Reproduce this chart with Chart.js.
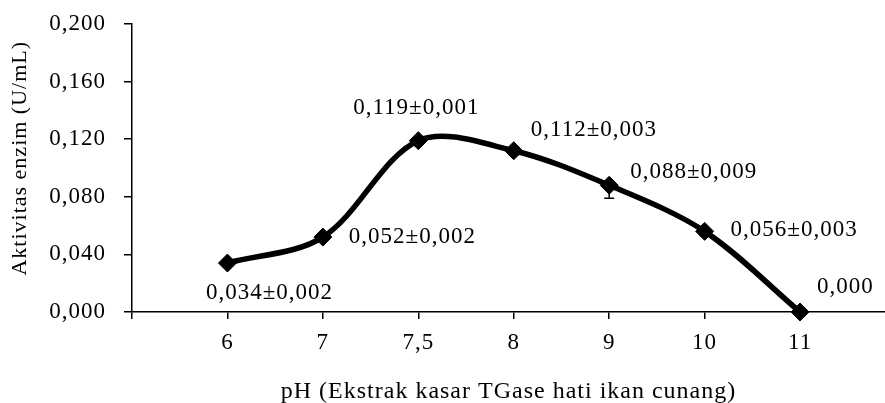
<!DOCTYPE html>
<html>
<head>
<meta charset="utf-8">
<script src="https://cdn.jsdelivr.net/npm/chart.js"></script>
<style>
	html, body { margin: 0; padding: 0; background: #fff; overflow: hidden; }
	canvas { display: block; }
</style>
</head>
<body>
<canvas id="graf" width="885" height="403"></canvas>
<script>
	// pH categories, activity (U/mL) and standard deviation
	const phLabels = ["6", "7", "7,5", "8", "9", "10", "11"];
	const activity = [0.034, 0.052, 0.119, 0.112, 0.088, 0.056, 0.0];
	const errors = [0.002, 0.002, 0.001, 0.003, 0.009, 0.003, 0.0];
	const yTicks = [0, 0.04, 0.08, 0.12, 0.16, 0.2];

	const fmt = (v) => v.toFixed(3).replace(".", ",");
	const FONT = "'Liberation Serif', 'Times New Roman', serif";

	// label placement relative to each point: [dx, dy, align]
	const labelPlace = [
		[42, 30, "center"],
		[26, 0, "left"],
		[-2, -33, "center"],
		[17, -21, "left"],
		[21, -13, "left"],
		[26, -1, "left"],
		[17, -25, "left"],
	];

	const spacing = {
		id: "spacing",
		beforeDraw(chart) {
			chart.ctx.letterSpacing = "1px";
		},
	};

	// only the lower half of each error bar shows below the markers
	const errorBars = {
		id: "errorBars",
		afterDatasetsDraw(chart) {
			const ctx = chart.ctx;
			const xs = chart.scales.x, ys = chart.scales.y;
			ctx.save();
			ctx.strokeStyle = "#000";
			ctx.lineWidth = 1.5;
			for (let i = 0; i < activity.length; i++) {
				const x = xs.getPixelForValue(i);
				const mid = ys.getPixelForValue(activity[i]);
				const lo = ys.getPixelForValue(activity[i] - errors[i]);
				ctx.beginPath();
				ctx.moveTo(x, mid); ctx.lineTo(x, lo);
				ctx.moveTo(x - 5, lo); ctx.lineTo(x + 5, lo);
				ctx.stroke();
			}
			ctx.restore();
		},
	};

	const valueLabels = {
		id: "valueLabels",
		afterDraw(chart) {
			const ctx = chart.ctx;
			const xs = chart.scales.x, ys = chart.scales.y;
			ctx.save();
			ctx.letterSpacing = "1px";
			ctx.font = "23px " + FONT;
			ctx.fillStyle = "#000";
			ctx.textBaseline = "middle";
			for (let i = 0; i < activity.length; i++) {
				const x = xs.getPixelForValue(i);
				const y = ys.getPixelForValue(activity[i]);
				const p = labelPlace[i];
				let txt = fmt(activity[i]);
				if (errors[i] > 0) txt += "±" + fmt(errors[i]);
				ctx.textAlign = p[2];
				ctx.fillText(txt, x + p[0], y + p[1]);
			}
			ctx.restore();
		},
	};

	new Chart(document.getElementById("graf"), {
		type: "line",
		data: {
			datasets: [
				{
					data: activity.map((v, i) => ({ x: i, y: v })),
					borderColor: "#000",
					backgroundColor: "#000",
					borderWidth: 5.5,
					tension: 0.33,
					pointStyle: "rectRot",
					pointRadius: 9,
					pointBorderWidth: 1,
					pointBackgroundColor: "#000",
					pointBorderColor: "#000",
					fill: false,
					clip: false,
				},
			],
		},
		options: {
			responsive: false,
			animation: false,
			devicePixelRatio: 1,
			layout: { autoPadding: false, padding: { top: 24, right: 0, left: 0, bottom: 0 } },
			plugins: {
				legend: { display: false },
				tooltip: { enabled: false },
			},
			scales: {
				x: {
					type: "linear",
					min: -1,
					max: 6.89,
					border: { color: "#000", width: 1.5 },
					grid: { drawOnChartArea: false, tickLength: 7, color: "#000", lineWidth: 1.5 },
					afterBuildTicks(scale) {
						scale.ticks = [-1, 0, 1, 2, 3, 4, 5, 6].map((v) => ({ value: v }));
					},
					afterFit(scale) {
						scale.height = 91;
						scale.paddingLeft = 0;
						scale.paddingRight = 0;
					},
					ticks: {
						padding: 10,
						color: "#000",
						font: { family: FONT, size: 23 },
						maxRotation: 0,
						autoSkip: false,
						callback: (v) => (v >= 0 ? phLabels[v] : ""),
					},
					title: {
						display: true,
						text: "pH (Ekstrak kasar TGase hati ikan cunang)",
						color: "#000",
						font: { family: FONT, size: 24, lineHeight: 0.95 },
						padding: { top: 0, bottom: 0 },
					},
				},
				y: {
					min: 0,
					max: 0.2,
					border: { color: "#000", width: 1.5 },
					grid: { drawOnChartArea: false, tickLength: 8, color: "#000", lineWidth: 1.5 },
					afterBuildTicks(scale) {
						scale.ticks = yTicks.map((v) => ({ value: v }));
					},
					afterFit(scale) {
						scale.width = 132;
						scale.paddingTop = 0;
						scale.paddingBottom = 0;
					},
					ticks: {
						padding: 18,
						color: "#000",
						font: { family: FONT, size: 23 },
						callback: (v) => fmt(v),
					},
					title: {
						display: true,
						text: "\u00A0\u00A0\u00A0Aktivitas enzim (U/mL)",
						color: "#000",
						font: { family: FONT, size: 22, lineHeight: 1 },
						padding: { top: 9, bottom: 0 },
					},
				},
			},
		},
		plugins: [spacing, errorBars, valueLabels],
	});
</script>
</body>
</html>
